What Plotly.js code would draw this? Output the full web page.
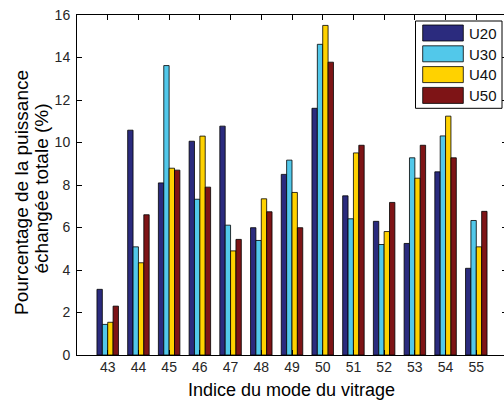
<!DOCTYPE html>
<html>
<head>
<meta charset="utf-8">
<script src="https://cdn.plot.ly/plotly-3.0.1.min.js"></script>
<style>
  html, body { margin: 0; padding: 0; overflow: hidden; background: #fff; }
</style>
</head>
<body>
<div id="chart"></div>
<script>
// Glazing mode indices (x categories)
const modes = [43, 44, 45, 46, 47, 48, 49, 50, 51, 52, 53, 54, 55];

// Share of total exchanged power (%) per mode, one array per series
const u20 = [3.09, 10.58, 8.10, 10.06, 10.77, 5.99, 8.50, 11.61, 7.49, 6.29, 5.25, 8.62, 4.08];
const u30 = [1.44, 5.09, 13.62, 7.33, 6.11, 5.39, 9.17, 14.62, 6.41, 5.20, 9.28, 10.31, 6.33];
const u40 = [1.54, 4.34, 8.79, 10.30, 4.90, 7.35, 7.65, 15.51, 9.51, 5.81, 8.32, 11.24, 5.09];
const u50 = [2.30, 6.60, 8.70, 7.90, 5.44, 6.74, 5.99, 13.78, 9.87, 7.18, 9.87, 9.28, 6.76];

const seriesNames = ['U20', 'U30', 'U40', 'U50'];
const seriesValues = [u20, u30, u40, u50];
const seriesColors = ['#2B2B7E', '#52C8EA', '#FFD200', '#7E1416'];

const yTicks = [0, 2, 4, 6, 8, 10, 12, 14, 16];

// Figure geometry (pixels)
const W = 510, H = 401;
const M = { l: 77, r: 3, t: 15, b: 46 };
const plotW = W - M.l - M.r, plotH = H - M.t - M.b;
const px = x => (x - M.l) / plotW;          // pixel x -> paper x
const py = y => (H - M.b - y) / plotH;      // pixel y -> paper y

const FONT = 'Arial, "Liberation Sans", Helvetica, sans-serif';

const traces = seriesNames.map((name, i) => ({
  type: 'bar',
  name: name,
  x: modes,
  y: seriesValues[i],
  marker: { color: seriesColors[i], line: { color: '#000', width: 0.8 } },
  showlegend: false,
  hoverinfo: 'x+y+name'
}));

// Boxed legend with wide colour swatches, upper right
const shapes = [{
  type: 'rect', xref: 'paper', yref: 'paper', layer: 'above',
  x0: px(415.5), x1: px(502), y0: py(108.3), y1: py(21),
  fillcolor: '#fff', line: { color: '#000', width: 1 }
}];
const annotations = [];
seriesNames.forEach((name, i) => {
  const top = 25 + i * 20.8;
  shapes.push({
    type: 'rect', xref: 'paper', yref: 'paper', layer: 'above',
    x0: px(422.7), x1: px(463.3), y0: py(top + 16), y1: py(top),
    fillcolor: seriesColors[i], line: { color: '#000', width: 0.8 }
  });
  annotations.push({
    xref: 'paper', yref: 'paper', x: px(467), y: py(top + 8.3),
    xanchor: 'left', yanchor: 'middle', showarrow: false,
    text: name, font: { family: FONT, size: 15, color: '#111' }
  });
});

// Axis titles
annotations.push({
  xref: 'paper', yref: 'paper', x: px(291), y: py(390),
  xanchor: 'center', yanchor: 'middle', showarrow: false,
  text: 'Indice du mode du vitrage',
  font: { family: FONT, size: 18, color: '#000' }
});
annotations.push({
  xref: 'paper', yref: 'paper', x: px(21), y: py(193),
  xanchor: 'center', yanchor: 'middle', showarrow: false, textangle: -90,
  text: 'Pourcentage de la puissance',
  font: { family: FONT, size: 19, color: '#000' }
});
annotations.push({
  xref: 'paper', yref: 'paper', x: px(40.5), y: py(189),
  xanchor: 'center', yanchor: 'middle', showarrow: false, textangle: -90,
  text: 'échangée totale (%)',
  font: { family: FONT, size: 19, color: '#000' }
});

const layout = {
  width: W, height: H,
  margin: M,
  paper_bgcolor: '#fff', plot_bgcolor: '#fff',
  barmode: 'group', bargap: 0.3, bargroupgap: 0,
  showlegend: false,
  font: { family: FONT, size: 14, color: '#262626' },
  xaxis: {
    range: [42, 56], tickvals: modes, ticktext: modes.map(String),
    ticks: 'inside', ticklen: 5, tickcolor: '#000', tickwidth: 1,
    showline: true, linecolor: '#000', linewidth: 1, mirror: 'ticks',
    showgrid: false, zeroline: false, ticklabelstandoff: -1,
    tickfont: { family: FONT, size: 14, color: '#262626' }
  },
  yaxis: {
    range: [0, 16], tickvals: yTicks, ticktext: yTicks.map(String),
    ticks: 'inside', ticklen: 5, tickcolor: '#000', tickwidth: 1,
    showline: true, linecolor: '#000', linewidth: 1, mirror: 'ticks',
    showgrid: false, zeroline: false, ticklabelstandoff: 3,
    tickfont: { family: FONT, size: 14, color: '#262626' }
  },
  shapes: shapes,
  annotations: annotations
};

Plotly.newPlot('chart', traces, layout, { displayModeBar: false, staticPlot: true });
</script>
</body>
</html>
